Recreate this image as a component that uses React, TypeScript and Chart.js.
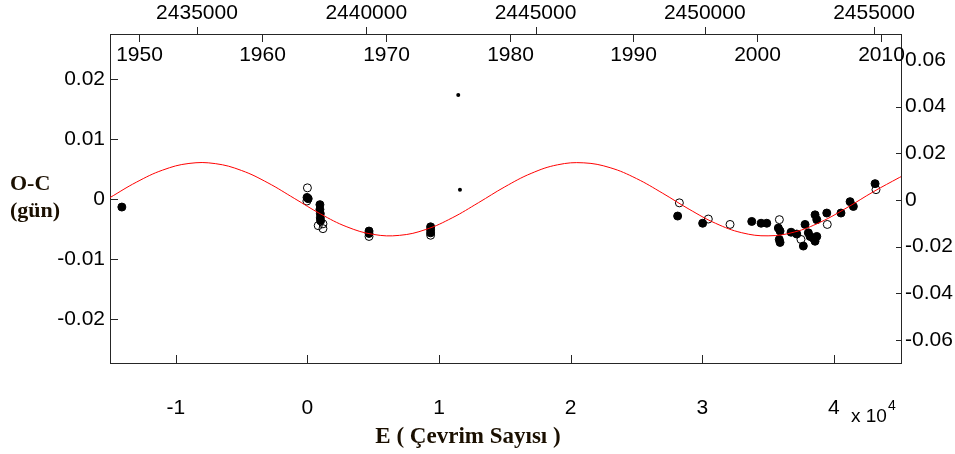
import { useEffect, useRef } from "react";
import { Chart, registerables } from "chart.js";

Chart.register(...registerables);

// ---- data ----
// fitted model curve (E, O-C)
const curveE = [-15000, -13000, -11000, -9000, -7000, -5000, -3000, -1000, 1000, 3000, 5000, 7000, 9000, 11000, 13000, 15000, 17000, 19000, 21000, 23000, 25000, 27000, 29000, 31000, 33000, 35000, 37000, 39000, 41000, 43000, 45000, 45100];
const curveOC = [0.00028, 0.00284, 0.00486, 0.00597, 0.00594, 0.00479, 0.00273, 0.00015, -0.00245, -0.0046, -0.00586, -0.00602, -0.00504, -0.0031, -0.00057, 0.00207, 0.00431, 0.00574, 0.00607, 0.00526, 0.00345, 0.00099, -0.00166, -0.004, -0.00558, -0.0061, -0.00547, -0.00379, -0.0014, 0.00125, 0.00365, 0.00376];

// filled circles
const filledE = [-14100, -30, 60, 950, 950, 980, 980, 1000, 4680, 4680, 9360, 9360, 9360, 28130, 30030, 33760, 34470, 34900, 35780, 35910, 35850, 35910, 36750, 37180, 37680, 37810, 38060, 38190, 38570, 38700, 38440, 38570, 38700, 39460, 40540, 41230, 41480, 43130];
const filledOC = [-0.0013, 0.0003, 0.0001, -0.0009, -0.0017, -0.0024, -0.0031, -0.0036, -0.0053, -0.0057, -0.0046, -0.0051, -0.0056, -0.0028, -0.004, -0.0037, -0.004, -0.004, -0.0048, -0.0053, -0.0067, -0.0072, -0.0055, -0.0058, -0.0078, -0.0042, -0.0056, -0.0062, -0.0026, -0.0034, -0.0065, -0.007, -0.0062, -0.0023, -0.0023, -0.0004, -0.0012, 0.0026];

// open circles
const openE = [0, -40, 820, 1180, 1180, 4680, 9360, 28260, 30460, 32110, 35860, 37500, 39500, 43200];
const openOC = [0.0019, -0.0003, -0.0044, -0.0049, -0.0041, -0.0062, -0.006, -0.0006, -0.0033, -0.0042, -0.0034, -0.0067, -0.0042, 0.0016];

// small dots
const smallE = [11460, 11590];
const smallOC = [0.0174, 0.0016];

// axis ticks / limits
const eTicks = [-10000, 0, 10000, 20000, 30000, 40000];
const ocTicks = [-0.02, -0.01, 0, 0.01, 0.02];
const oc2Ticks = [-0.06, -0.04, -0.02, 0, 0.02, 0.04, 0.06];
const jdTicks = [2435000, 2440000, 2445000, 2450000, 2455000];
const yearTicks = [1950, 1960, 1970, 1980, 1990, 2000, 2010];
const eRange = [-15000, 45100];
const ocRange = [-0.0273, 0.02755];
const oc2Range = [-0.0699, 0.0711];
const jdRange = [2432430, 2455797];
const JD_1950 = 2433282.5;
const DAYS_PER_YEAR = 365.25;

const AXIS = "#262626";
const SANS = "'Liberation Sans', Arial, sans-serif";
const SERIF = "'Liberation Serif', 'Times New Roman', serif";
const TICK_SIZE = 21;

const pts = (xs: number[], ys: number[]) => xs.map((x, i) => ({ x, y: ys[i] }));

const decor = {
  id: "decor",
  afterDraw(chart: any) {
    const { ctx, chartArea: a, scales } = chart;
    const sx = scales.x, sy = scales.y, sy2 = scales.y2, sj = scales.jd;
    const al = (v: number) => Math.round(v) + 0.5;
    const seg = (x1: number, y1: number, x2: number, y2: number) => {
      ctx.beginPath();
      ctx.moveTo(x1, y1);
      ctx.lineTo(x2, y2);
      ctx.stroke();
    };
    ctx.save();
    ctx.strokeStyle = AXIS;
    ctx.lineWidth = 1;
    sx.ticks.forEach((t: any) => { const p = al(sx.getPixelForValue(t.value)); seg(p, a.bottom, p, a.bottom - 8); });
    sy.ticks.forEach((t: any) => { const p = al(sy.getPixelForValue(t.value)); seg(a.left, p, a.left + 8, p); });
    sy2.ticks.forEach((t: any) => { const p = al(sy2.getPixelForValue(t.value)); seg(a.right, p, a.right - 5, p); });
    sj.ticks.forEach((t: any) => { const p = al(sj.getPixelForValue(t.value)); seg(p, a.top, p, a.top - 7); });

    ctx.fillStyle = "#000";
    ctx.font = `${TICK_SIZE}px ${SANS}`;
    ctx.textAlign = "center";
    ctx.textBaseline = "middle";
    yearTicks.forEach((yr) => {
      const jd = JD_1950 + (yr - 1950) * DAYS_PER_YEAR;
      const p = al(sj.getPixelForValue(jd));
      seg(p, a.top, p, a.top + 8);
      ctx.fillText(String(yr), p, a.top + 21);
    });

    // x 10^4
    ctx.textAlign = "left";
    ctx.textBaseline = "alphabetic";
    ctx.font = `19px ${SANS}`;
    ctx.fillText("x 10", 851, 422);
    const w = ctx.measureText("x 10").width;
    ctx.font = `14px ${SANS}`;
    ctx.fillText("4", 851 + w + 1, 410);

    // axis titles
    ctx.fillStyle = "#1a0f00";
    ctx.font = `bold 22px ${SERIF}`;
    ctx.textBaseline = "middle";
    ctx.textAlign = "left";
    ctx.fillText("O-C", 10, 184);
    ctx.fillText("(gün)", 10, 211);
    ctx.textAlign = "center";
    ctx.font = `bold 23px ${SERIF}`;
    ctx.fillText("E ( Çevrim Sayısı )", 468, 437);
    ctx.restore();
  },
};

const tickFont = { family: SANS, size: TICK_SIZE };

export default function App() {
  const ref = useRef<HTMLCanvasElement | null>(null);
  useEffect(() => {
    if (!ref.current) return;
    const chart = new Chart(ref.current, {
      type: "scatter",
      data: {
        datasets: [
          {
            label: "model",
            type: "line",
            data: pts(curveE, curveOC),
            borderColor: "#ff0000",
            borderWidth: 1,
            pointRadius: 0,
            tension: 0.4,
            fill: false,
            showLine: true,
            xAxisID: "x",
            yAxisID: "y",
          } as any,
          {
            label: "small",
            data: pts(smallE, smallOC),
            pointRadius: 2,
            pointBackgroundColor: "#000",
            pointBorderColor: "#000",
            pointBorderWidth: 0,
            xAxisID: "x",
            yAxisID: "y",
          },
          {
            label: "open",
            data: pts(openE, openOC),
            pointRadius: 4,
            pointBackgroundColor: "rgba(255,255,255,0)",
            pointBorderColor: "#000",
            pointBorderWidth: 1,
            xAxisID: "x",
            yAxisID: "y",
          },
          {
            label: "filled",
            data: pts(filledE, filledOC),
            pointRadius: 4,
            pointBackgroundColor: "#000",
            pointBorderColor: "#000",
            pointBorderWidth: 1,
            xAxisID: "x",
            yAxisID: "y",
          },
        ],
      },
      options: {
        animation: false,
        responsive: false,
        devicePixelRatio: 1,
        layout: { padding: 0 },
        plugins: { legend: { display: false }, tooltip: { enabled: false } },
        events: [],
        scales: {
          x: {
            type: "linear",
            position: "bottom",
            min: eRange[0],
            max: eRange[1],
            afterBuildTicks: (s: any) => { s.ticks = eTicks.map((v) => ({ value: v })); },
            afterFit: (s: any) => { s.height = 91; },
            grid: { display: false, drawTicks: false },
            border: { display: true, color: AXIS, width: 1 },
            ticks: { font: tickFont, color: "#000", padding: 33, autoSkip: false, maxRotation: 0, callback: (v: any) => String(Number(v) / 10000) },
          },
          jd: {
            type: "linear",
            position: "top",
            min: jdRange[0],
            max: jdRange[1],
            afterBuildTicks: (s: any) => { s.ticks = jdTicks.map((v) => ({ value: v })); },
            afterFit: (s: any) => { s.height = 34; },
            grid: { display: false, drawTicks: false },
            border: { display: true, color: AXIS, width: 1 },
            ticks: { font: tickFont, color: "#000", padding: 8, autoSkip: false, maxRotation: 0, callback: (v: any) => String(v) },
          },
          y: {
            type: "linear",
            position: "left",
            min: ocRange[0],
            max: ocRange[1],
            afterBuildTicks: (s: any) => { s.ticks = ocTicks.map((v) => ({ value: v })); },
            afterFit: (s: any) => { s.width = 110; },
            grid: { display: false, drawTicks: false },
            border: { display: true, color: AXIS, width: 1 },
            ticks: { font: tickFont, color: "#000", padding: 5, autoSkip: false, callback: (v: any) => String(v) },
          },
          y2: {
            type: "linear",
            position: "right",
            min: oc2Range[0],
            max: oc2Range[1],
            afterBuildTicks: (s: any) => { s.ticks = oc2Ticks.map((v) => ({ value: v })); },
            afterFit: (s: any) => { s.width = 54; },
            grid: { display: false, drawTicks: false },
            border: { display: true, color: AXIS, width: 1 },
            ticks: { font: tickFont, color: "#000", padding: 4, autoSkip: false, callback: (v: any) => String(v) },
          },
        },
      } as any,
      plugins: [decor],
    });
    return () => chart.destroy();
  }, []);
  return (
    <div style={{ position: "absolute", left: 0, top: 0, width: 955, height: 454, background: "#fff" }}>
      <canvas ref={ref} width={955} height={454} style={{ display: "block" }} />
    </div>
  );
}
